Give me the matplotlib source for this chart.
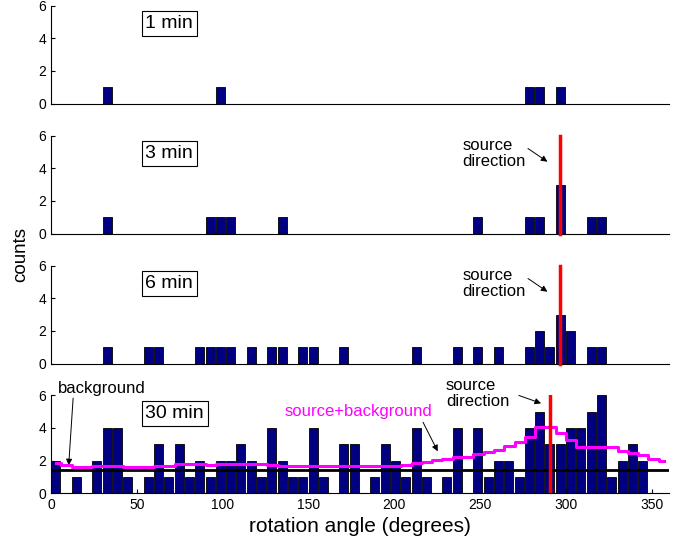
import numpy as np
import matplotlib
matplotlib.use("Agg")
import matplotlib.pyplot as plt

plt.rcParams['font.family'] = ['Liberation Sans', 'DejaVu Sans']

# 6-degree bins, left edges
bin_edges = np.arange(0, 360, 6)

# sparse panels: bin index -> counts
min1_bins = [5, 16, 46, 47, 49]
min1_counts = [1, 1, 1, 1, 1]

min3_bins = [5, 15, 16, 17, 22, 41, 46, 47, 49, 52, 53]
min3_counts = [1, 1, 1, 1, 1, 1, 1, 1, 3, 1, 1]

min6_bins = [5, 9, 10, 14, 15, 16, 17, 19, 21, 22, 24, 25, 28, 35, 39, 41, 43,
             46, 47, 48, 49, 50, 52, 53]
min6_counts = [1, 1, 1, 1, 1, 1, 1, 1, 1, 1, 1, 1, 1, 1, 1, 1, 1,
               1, 2, 1, 3, 2, 1, 1]

min30_counts = [2, 0, 1, 0, 2, 4, 4, 1, 0, 1, 3, 1, 3, 1, 2, 1, 2, 2, 3, 2,
                1, 4, 2, 1, 1, 4, 1, 0, 3, 3, 0, 1, 3, 2, 1, 4, 1, 0, 1, 4,
                0, 4, 1, 2, 2, 1, 4, 5, 3, 3, 4, 4, 5, 6, 1, 2, 3, 2, 0, 0]

# model curve (source + background), per bin centre
model = [1.86, 1.75, 1.60, 1.62, 1.66, 1.68, 1.66, 1.64, 1.63, 1.64,
         1.66, 1.70, 1.78, 1.80, 1.78, 1.76, 1.77, 1.79, 1.80, 1.82,
         1.80, 1.72, 1.70, 1.70, 1.69, 1.68, 1.66, 1.66, 1.66, 1.65,
         1.65, 1.65, 1.66, 1.70, 1.76, 1.84, 1.92, 2.02, 2.12, 2.20,
         2.25, 2.38, 2.50, 2.67, 2.87, 3.17, 3.47, 4.05, 4.05, 3.70,
         3.25, 2.85, 2.85, 2.85, 2.85, 2.57, 2.45, 2.32, 2.12, 2.00]
background = 1.4

source_dir_top = 296.5
source_dir_30 = 290.8

panel_labels = ['1 min', '3 min', '6 min', '30 min']

bar_color = '#000080'
W, H = 693, 542
fig = plt.figure(figsize=(W / 100, H / 100), dpi=100)

left = 51 / W
width = 618 / W
height = 98 / H
bottoms = [1 - 103.5 / H, 1 - 233.5 / H, 1 - 363.5 / H, 1 - 493.3 / H]

axes = [fig.add_axes([left, b, width, height]) for b in bottoms]

sparse = [(min1_bins, min1_counts), (min3_bins, min3_counts), (min6_bins, min6_counts)]

for i, ax in enumerate(axes):
    if i < 3:
        bins, counts = sparse[i]
        x = bin_edges[bins]
        h = counts
    else:
        x = bin_edges
        h = min30_counts
    ax.bar(x, h, width=5.3, align='edge', color=bar_color, edgecolor='black',
           linewidth=0.6, zorder=2)
    ax.set_xlim(0, 360)
    ax.set_ylim(0, 6)
    ax.set_yticks([0, 2, 4, 6])
    ax.spines['top'].set_visible(False)
    ax.spines['right'].set_visible(False)
    ax.tick_params(direction='in', labelsize=10, length=3)
    ax.set_facecolor('none')
    ax.text(55, 4.9, panel_labels[i], fontsize=14, ha='left', va='center',
            bbox=dict(boxstyle='square,pad=0.2', fc='white', ec='black', lw=0.8))
    if i < 3:
        ax.set_xticks([])

# source direction markers
for ax in axes[1:3]:
    ax.plot([source_dir_top, source_dir_top], [0, 6], color='red', lw=2.5, zorder=3,
            clip_on=False)
    ax.annotate('', xy=(290.5, 4.3), xytext=(276.5, 5.3),
                arrowprops=dict(arrowstyle='-|>', color='black', lw=0.7,
                                mutation_scale=9))
    ax.text(239.5, 4.9, 'source\ndirection', fontsize=12, ha='left', va='center',
            linespacing=1.1)

ax = axes[3]
centres = bin_edges + 3
ax.plot(centres, model, drawstyle='steps-mid', color='#ff00ff', lw=2.2, zorder=4)
ax.axhline(background, color='black', lw=2, zorder=4)
ax.plot([source_dir_30, source_dir_30], [0, 6], color='red', lw=2.5, zorder=5)
ax.set_xticks(np.arange(0, 351, 50))
ax.annotate('', xy=(287, 5.45), xytext=(271, 6.05), annotation_clip=False,
            arrowprops=dict(arrowstyle='-|>', color='black', lw=0.7,
                            mutation_scale=9))
ax.text(230, 6.1, 'source\ndirection', fontsize=12, ha='left', va='center',
        linespacing=1.1, clip_on=False)
ax.annotate('', xy=(10.2, 1.55), xytext=(13, 6.0), annotation_clip=False,
            arrowprops=dict(arrowstyle='-|>', color='black', lw=0.7,
                            mutation_scale=9))
ax.text(4.2, 6.42, 'background', fontsize=12, ha='left', va='center', clip_on=False)
ax.annotate('', xy=(226, 2.42), xytext=(216, 4.5),
            arrowprops=dict(arrowstyle='-|>', color='black', lw=0.7,
                            mutation_scale=9))
ax.text(179, 5.0, 'source+background', fontsize=12, ha='center', va='center',
        color='#ff00ff')

fig.text(21 / W, 1 - 255 / H, 'counts', rotation=90, fontsize=13.5,
         ha='center', va='center')
fig.text(360 / W, 1 - 526 / H, 'rotation angle (degrees)', fontsize=15,
         ha='center', va='center')

fig.savefig('out.png', dpi=100)
